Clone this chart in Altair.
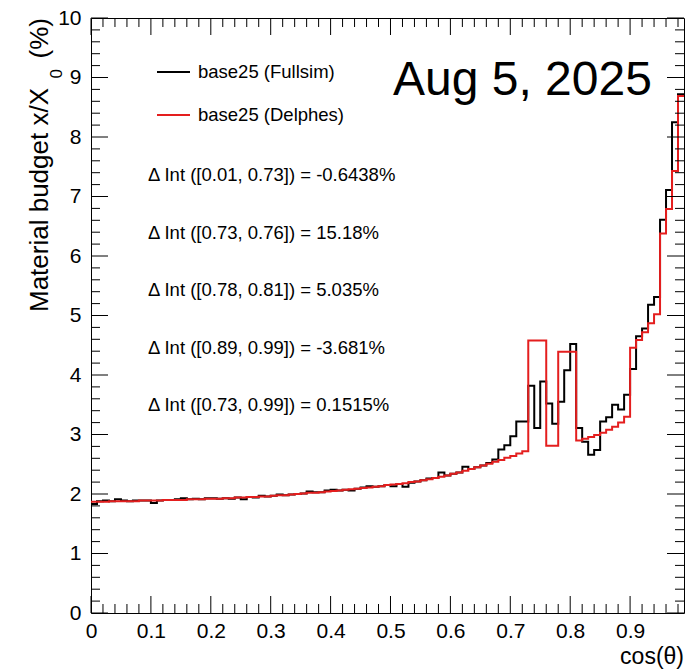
import altair as alt
import pandas as pd

# ---------------- data ----------------
bin_width = 0.01
n_bins = 99
x_max = 0.99

fullsim = [
    1.83, 1.88, 1.89, 1.88, 1.91, 1.89, 1.88, 1.89, 1.89, 1.89,
    1.85, 1.89, 1.90, 1.90, 1.91, 1.93, 1.91, 1.92, 1.91, 1.93,
    1.93, 1.92, 1.93, 1.92, 1.94, 1.91, 1.95, 1.94, 1.97, 1.96,
    1.97, 1.99, 1.98, 1.99, 2.00, 2.01, 2.04, 2.03, 2.03, 2.06,
    2.07, 2.06, 2.07, 2.06, 2.09, 2.11, 2.13, 2.12, 2.13, 2.15,
    2.13, 2.17, 2.12, 2.19, 2.21, 2.23, 2.26, 2.27, 2.36, 2.31,
    2.34, 2.36, 2.46, 2.42, 2.45, 2.48, 2.52, 2.58, 2.75, 2.82,
    2.97, 3.22, 3.22, 3.82, 3.11, 3.89, 3.52, 3.18, 3.55, 4.08,
    4.52, 3.11, 2.88, 2.66, 2.74, 3.22, 3.29, 3.50, 3.42, 3.67,
    4.10, 4.65, 4.78, 5.18, 5.31, 6.61, 7.11, 8.25, 8.72,
]

delphes = [
    1.87, 1.87, 1.87, 1.88, 1.88, 1.88, 1.88, 1.88, 1.89, 1.89,
    1.89, 1.89, 1.90, 1.90, 1.90, 1.90, 1.91, 1.91, 1.91, 1.92,
    1.92, 1.92, 1.93, 1.93, 1.94, 1.94, 1.95, 1.95, 1.96, 1.96,
    1.97, 1.98, 1.98, 1.99, 2.00, 2.01, 2.02, 2.02, 2.03, 2.04,
    2.05, 2.06, 2.07, 2.08, 2.09, 2.10, 2.11, 2.12, 2.13, 2.15,
    2.16, 2.17, 2.18, 2.20, 2.21, 2.23, 2.25, 2.27, 2.29, 2.31,
    2.34, 2.36, 2.39, 2.42, 2.45, 2.48, 2.51, 2.54, 2.57, 2.61,
    2.64, 2.68, 2.72, 4.58, 4.58, 4.58, 2.81, 2.81, 4.39, 4.39,
    4.39, 2.90, 2.93, 2.96, 2.99, 3.03, 3.08, 3.13, 3.20, 3.30,
    4.46, 4.59, 4.72, 4.87, 5.02, 6.38, 6.79, 7.43, 8.69,
]

series_names = ["base25 (Fullsim)", "base25 (Delphes)"]
series_colors = ["#000000", "#e41e1e"]

annotations = [
    "\u0394 Int ([0.01, 0.73]) = -0.6438%",
    "\u0394 Int ([0.73, 0.76]) = 15.18%",
    "\u0394 Int ([0.78, 0.81]) = 5.035%",
    "\u0394 Int ([0.89, 0.99]) = -3.681%",
    "\u0394 Int ([0.73, 0.99]) = 0.1515%",
]
date_label = "Aug 5, 2025"

x_major = [0.0, 0.1, 0.2, 0.3, 0.4, 0.5, 0.6, 0.7, 0.8, 0.9]
x_minor = [round(0.02 * i, 2) for i in range(1, 50) if i % 5 != 0]
y_major = [0, 1, 2, 3, 4, 5, 6, 7, 8, 9, 10]
y_minor = [round(0.2 * i, 1) for i in range(1, 50) if i % 5 != 0]

# ---------------- layout ----------------
W, H = 593, 595
FONT = "Liberation Sans"

xscale = alt.Scale(domain=[0, x_max], nice=False, zero=False)
yscale = alt.Scale(domain=[0, 10], nice=False, zero=False)

edges = [round(i * bin_width, 2) for i in range(n_bins)] + [x_max]
rows = []
for name, vals in zip(series_names, [fullsim, delphes]):
    for e, v in zip(edges, vals + [vals[-1]]):
        rows.append({"x": e, "y": v, "series": name})
hist_df = pd.DataFrame(rows)

x_axis = alt.Axis(
    values=x_major, labelExpr="datum.value == 0 ? '0' : format(datum.value, '.1f')",
    domain=False, ticks=False, grid=False, labelFont=FONT, labelFontSize=21,
    labelColor="#000", labelPadding=7, title=None, labelFlush=False, labelOverlap=False,
)
y_axis = alt.Axis(
    values=y_major, format="d", domain=False, ticks=False, grid=False,
    labelFont=FONT, labelFontSize=21, labelColor="#000", labelPadding=10, title=None,
    labelFlush=False, labelOverlap=False,
)

layers = []
for name, color in zip(series_names, series_colors):
    sub = hist_df[hist_df["series"] == name]
    layers.append(
        alt.Chart(sub).mark_line(interpolate="step-after", strokeWidth=2, color=color, clip=True)
        .encode(
            x=alt.X("x:Q", scale=xscale, axis=x_axis),
            y=alt.Y("y:Q", scale=yscale, axis=y_axis),
        )
    )

# ticks (ROOT style: inward, on all four sides)
def xticks(vals, length):
    d = pd.DataFrame({"v": vals})
    base = alt.Chart(d).mark_rule(color="#000", strokeWidth=1)
    bottom = base.encode(x=alt.X("v:Q", scale=xscale, axis=x_axis), y=alt.value(H), y2=alt.value(H - length))
    top = base.encode(x=alt.X("v:Q", scale=xscale, axis=x_axis), y=alt.value(0), y2=alt.value(length))
    return [bottom, top]

def yticks(vals, length):
    d = pd.DataFrame({"v": vals})
    base = alt.Chart(d).mark_rule(color="#000", strokeWidth=1)
    left = base.encode(y=alt.Y("v:Q", scale=yscale, axis=y_axis), x=alt.value(0), x2=alt.value(length))
    right = base.encode(y=alt.Y("v:Q", scale=yscale, axis=y_axis), x=alt.value(W), x2=alt.value(W - length))
    return [left, right]

layers += xticks(x_major, 17) + xticks(x_minor, 9) + yticks(y_major, 17) + yticks(y_minor, 9)

# legend
leg_rows = [54, 97]
for name, color, yy in zip(series_names, series_colors, leg_rows):
    ldf = pd.DataFrame({"label": [name]})
    layers.append(
        alt.Chart(ldf).mark_rule(color=color, strokeWidth=2)
        .encode(x=alt.value(66), x2=alt.value(99), y=alt.value(yy))
    )
    layers.append(
        alt.Chart(ldf).mark_text(align="left", baseline="middle", font=FONT, fontSize=18.5, color="#000")
        .encode(text="label:N", x=alt.value(107), y=alt.value(yy))
    )

# annotations
ann_rows = [157, 215, 272, 330, 387]
for txt, yy in zip(annotations, ann_rows):
    adf = pd.DataFrame({"t": [txt]})
    layers.append(
        alt.Chart(adf).mark_text(align="left", baseline="middle", font=FONT, fontSize=18.5, color="#000")
        .encode(text="t:N", x=alt.value(57), y=alt.value(yy))
    )

# date
layers.append(
    alt.Chart(pd.DataFrame({"t": [date_label]}))
    .mark_text(align="left", baseline="alphabetic", font=FONT, fontSize=48, color="#000")
    .encode(text="t:N", x=alt.value(302), y=alt.value(77))
)

# axis titles
layers.append(
    alt.Chart(pd.DataFrame({"t": ["cos(\u03b8)"]}))
    .mark_text(align="right", baseline="alphabetic", font=FONT, fontSize=23, color="#000")
    .encode(text="t:N", x=alt.value(W), y=alt.value(646))
)
layers.append(
    alt.Chart(pd.DataFrame({"t": ["Material budget x/X"]}))
    .mark_text(align="right", baseline="alphabetic", font=FONT, fontSize=26, color="#000", angle=270)
    .encode(text="t:N", x=alt.value(-43), y=alt.value(70))
)
layers.append(
    alt.Chart(pd.DataFrame({"t": ["0"]}))
    .mark_text(align="right", baseline="alphabetic", font=FONT, fontSize=17, color="#000", angle=270)
    .encode(text="t:N", x=alt.value(-29), y=alt.value(51))
)
layers.append(
    alt.Chart(pd.DataFrame({"t": ["(%)"]}))
    .mark_text(align="right", baseline="alphabetic", font=FONT, fontSize=26, color="#000", angle=270)
    .encode(text="t:N", x=alt.value(-43), y=alt.value(0))
)

chart = alt.layer(*layers).properties(
    width=W, height=H,
    autosize=alt.AutoSizeParams(type="none"),
    padding={"left": 91, "top": 18, "right": 7, "bottom": 57},
    background="white",
).configure_view(stroke="#000", strokeWidth=1)

chart.save("out.html", embed_options={"renderer": "svg", "actions": False})
